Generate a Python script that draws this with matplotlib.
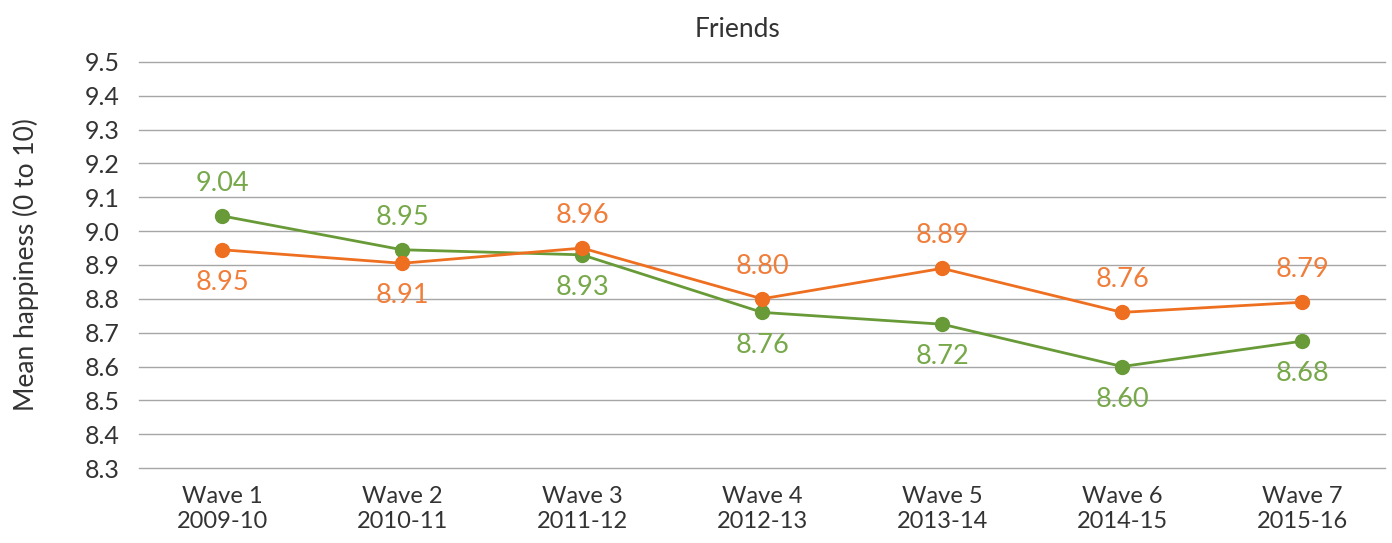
import matplotlib.pyplot as plt
from matplotlib import font_manager

waves = ["Wave 1\n2009-10", "Wave 2\n2010-11", "Wave 3\n2011-12", "Wave 4\n2012-13",
         "Wave 5\n2013-14", "Wave 6\n2014-15", "Wave 7\n2015-16"]

green_vals = [9.045, 8.945, 8.93, 8.76, 8.725, 8.60, 8.675]
green_labels = ["9.04", "8.95", "8.93", "8.76", "8.72", "8.60", "8.68"]
green_pos = [1, 1, -1, -1, -1, -1, -1]          # 1 = label above, -1 = below

orange_vals = [8.945, 8.905, 8.95, 8.80, 8.89, 8.76, 8.79]
orange_labels = ["8.95", "8.91", "8.96", "8.80", "8.89", "8.76", "8.79"]
orange_pos = [-1, -1, 1, 1, 1, 1, 1]

yticks = [8.3, 8.4, 8.5, 8.6, 8.7, 8.8, 8.9, 9.0, 9.1, 9.2, 9.3, 9.4, 9.5]

fams = {f.name for f in font_manager.fontManager.ttflist}
plt.rcParams['font.family'] = ['Lato', 'DejaVu Sans'] if 'Lato' in fams else ['DejaVu Sans']

fig = plt.figure(figsize=(13.92, 5.43), dpi=100)
ax = fig.add_axes([0.1, 0.138, 0.895, 0.748])

x = range(len(waves))
ax.plot(x, green_vals, color="#689A38", lw=2, marker="o", ms=10, zorder=3)
ax.plot(x, orange_vals, color="#EE6F20", lw=2, marker="o", ms=10, zorder=3)

for i in x:
    ax.annotate(green_labels[i], (i, green_vals[i]), xytext=(0, 23.5 * green_pos[i]),
                textcoords="offset points", ha="center", va="center",
                color="#77A84A", fontsize=19.5)
    ax.annotate(orange_labels[i], (i, orange_vals[i]), xytext=(0, 23.5 * orange_pos[i]),
                textcoords="offset points", ha="center", va="center",
                color="#F07D3A", fontsize=19.5)

ax.set_xlim(-0.46, 6.46)
ax.set_ylim(8.3, 9.5)
ax.set_yticks(yticks)
ax.set_yticklabels(["%.1f" % v for v in yticks])
ax.set_xticks(list(x))
ax.set_xticklabels(waves)
ax.tick_params(length=0, labelsize=17, labelcolor="#333333")
ax.tick_params(axis="y", labelsize=18, pad=14)
ax.tick_params(axis="x", pad=13)
ax.grid(axis="y", color="#a6a6a6", lw=1)
for gl in ax.get_ygridlines():
    gl.set_clip_on(False)
ax.set_axisbelow(True)
for s in ax.spines.values():
    s.set_visible(False)

ax.set_ylabel("Mean happiness (0 to 10)", fontsize=19, color="#333333", labelpad=33)
ax.set_title("Friends", fontsize=19, color="#333333", pad=18, x=0.48)

fig.savefig("out.png", dpi=100)
